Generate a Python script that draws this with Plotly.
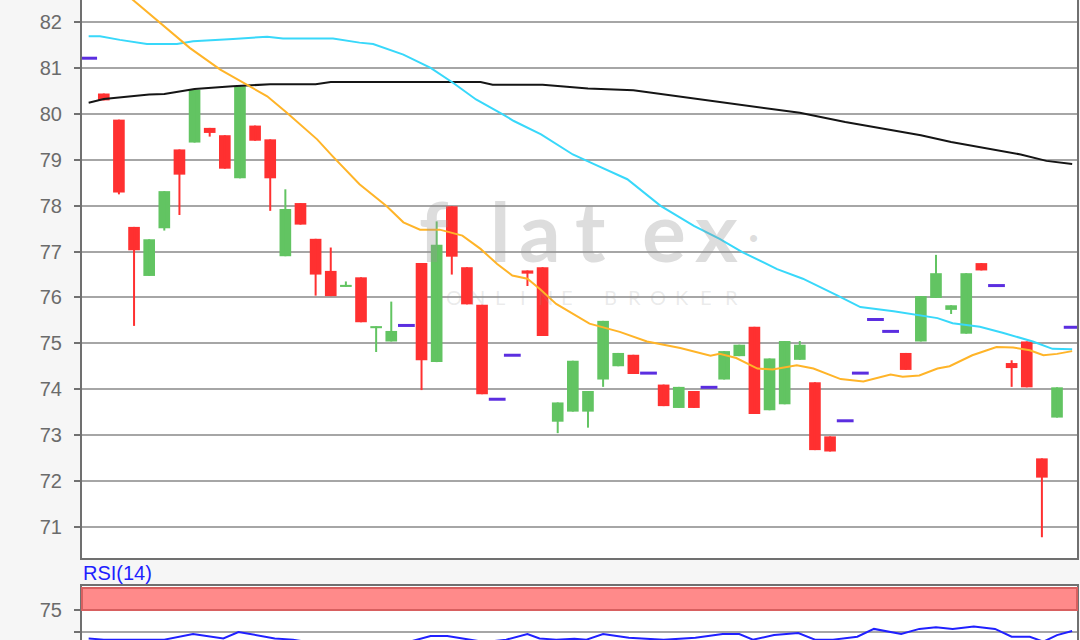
import plotly.graph_objects as go

# ---------------- data ----------------
candle_slot = [0, 1, 2, 3, 4, 5, 6, 7, 8, 9, 10, 11, 12, 13, 14, 15, 16, 17, 18, 19,
               21, 22, 23, 24, 25, 28, 29, 30, 31, 32, 33, 34, 35, 37, 38, 39,
               41, 42, 43, 44, 45, 46, 47, 48, 53, 54, 55, 56, 57, 58, 60, 61, 62, 63]
candle_open = [80.45, 79.88, 77.54, 76.47, 77.51, 79.23, 79.38, 79.70, 79.54, 78.60,
               79.75, 79.45, 76.90, 78.06, 77.28, 76.58, 76.23, 76.44, 75.33, 75.04,
               76.75, 74.59, 77.99, 76.66, 75.84, 76.59, 76.66, 73.29, 73.51, 73.51,
               74.21, 74.50, 74.75, 74.10, 73.59, 73.96, 74.21, 74.72, 75.36, 73.54,
               73.67, 74.64, 74.15, 72.97, 74.79, 75.04, 75.99, 75.73, 75.21, 76.75,
               74.57, 75.04, 72.49, 73.38]
candle_close = [80.30, 78.29, 77.03, 77.27, 78.32, 78.68, 80.53, 79.59, 78.81, 80.61,
                79.42, 78.60, 77.93, 77.59, 76.50, 76.03, 76.27, 75.46, 75.37, 75.27,
                74.63, 77.15, 76.89, 75.85, 73.89, 76.52, 75.16, 73.71, 74.62, 73.96,
                75.49, 74.79, 74.33, 73.63, 74.05, 73.59, 74.83, 74.97, 73.46, 74.67,
                75.05, 74.97, 72.67, 72.64, 74.42, 76.03, 76.53, 75.83, 76.53, 76.59,
                74.46, 74.04, 72.07, 74.04]
candle_high = [80.45, 79.88, 77.54, 77.27, 78.32, 79.23, 80.53, 79.70, 79.54, 80.61,
               79.75, 79.45, 78.36, 78.06, 77.28, 77.09, 76.35, 76.44, 75.37, 75.91,
               76.75, 77.66, 77.99, 76.66, 75.84, 76.59, 76.66, 73.71, 74.62, 73.96,
               75.49, 74.79, 74.75, 74.10, 74.05, 73.96, 74.83, 74.97, 75.36, 74.67,
               75.05, 75.05, 74.15, 72.97, 74.79, 76.03, 76.93, 75.83, 76.53, 76.75,
               74.63, 75.04, 72.49, 74.04]
candle_low = [80.30, 78.25, 75.38, 76.47, 77.46, 77.80, 79.38, 79.51, 78.81, 78.60,
              79.42, 77.89, 76.90, 77.59, 76.04, 76.03, 76.23, 75.46, 74.81, 75.04,
              73.98, 74.59, 76.50, 75.85, 73.89, 76.25, 75.16, 73.04, 73.51, 73.16,
              74.05, 74.50, 74.33, 73.63, 73.59, 73.59, 74.21, 74.72, 73.46, 73.54,
              73.67, 74.64, 72.67, 72.64, 74.42, 75.04, 75.99, 75.64, 75.21, 76.59,
              74.05, 74.04, 70.77, 73.38]

dash_slot = [-1, 20, 26, 27, 36, 40, 49, 50, 51, 52, 59, 64]
dash_value = [81.22, 75.39, 73.78, 74.74, 74.35, 74.04, 73.31, 74.35, 75.52, 75.26, 76.26, 75.35]

ma_long_slot = [-1, 0, 3, 4, 6, 8.5, 11, 14, 15, 20, 24.9, 25.7, 29, 30.2, 32, 35, 36.8,
                40.7, 46, 49, 51.7, 54, 56, 58.4, 60.6, 62.3, 64]
ma_long_value = [80.25, 80.33, 80.43, 80.44, 80.55, 80.61, 80.65, 80.65, 80.70, 80.70,
                 80.70, 80.64, 80.64, 80.61, 80.56, 80.52, 80.44, 80.26, 80.03, 79.83,
                 79.67, 79.54, 79.39, 79.25, 79.12, 78.98, 78.91]

ma_mid_slot = [-1, -0.25, 1.07, 2.85, 4.84, 5.9, 8.54, 10.8, 11.84, 15.15, 16.9, 17.8,
               19.8, 21.6, 23.1, 24.6, 26.4, 27.1, 28.9, 31.0, 32.4, 34.6, 36.8, 39.0,
               40.7, 42.2, 44.5, 46.2, 48.5, 50.0, 52.2, 55.1, 56.1, 57.9, 59.4, 61.4,
               62.7, 64.0]
ma_mid_value = [81.70, 81.70, 81.62, 81.53, 81.53, 81.59, 81.64, 81.69, 81.65, 81.65,
                81.56, 81.53, 81.30, 81.01, 80.68, 80.32, 79.99, 79.85, 79.56, 79.12,
                78.91, 78.58, 78.00, 77.56, 77.28, 76.99, 76.62, 76.41, 76.04, 75.79,
                75.70, 75.55, 75.44, 75.36, 75.23, 75.04, 74.88, 74.87]

ma_short_slot = [1.0, 1.93, 3.7, 5.7, 7.7, 9.5, 10.8, 12.1, 14.1, 15.1, 16.9, 18.7, 19.8,
                 20.9, 22.2, 23.7, 24.9, 26.0, 27.0, 28.0, 28.8, 29.9, 31.0, 32.1, 34.1,
                 35.9, 38.1, 40.1, 40.7, 41.8, 43.2, 44.2, 45.8, 46.9, 48.7, 50.2, 52.0,
                 52.8, 53.9, 55.1, 55.9, 57.4, 59.0, 60.1, 61.2, 62.1, 63.0, 64.0]
ma_short_value = [82.75, 82.49, 81.99, 81.44, 80.97, 80.64, 80.39, 80.03, 79.45, 79.09,
                  78.47, 77.99, 77.64, 77.48, 77.48, 77.35, 77.06, 76.73, 76.48, 76.41,
                  76.19, 75.86, 75.65, 75.43, 75.25, 75.04, 74.90, 74.73, 74.77, 74.68,
                  74.45, 74.43, 74.52, 74.45, 74.22, 74.17, 74.32, 74.27, 74.30, 74.45,
                  74.50, 74.74, 74.92, 74.91, 74.85, 74.74, 74.77, 74.83]

rsi_slot = [-1, 0, 4, 5.9, 7.9, 8.9, 11.3, 12.5, 14, 17, 20, 21.6, 22.7, 24.3, 25.2, 26.6,
            28.0, 28.8, 29.9, 31.1, 31.9, 33.0, 34.7, 37.0, 39.1, 40.9, 42.0, 42.9, 44.3,
            45.9, 47.0, 48.2, 49.8, 50.9, 52.7, 53.9, 55.0, 56.1, 57.5, 58.9, 60.0, 61.2,
            62.1, 63.0, 64.0]
rsi_value = [42.7, 41.3, 41.3, 47.7, 42.7, 50.0, 42.7, 41.3, 37.0, 35.0, 38.0, 45.4, 45.4,
             41.3, 38.5, 41.3, 47.7, 42.7, 41.3, 42.3, 41.3, 47.7, 43.5, 41.1, 43.5, 47.7,
             47.7, 41.3, 46.5, 48.8, 41.3, 41.3, 44.6, 53.5, 47.7, 53.5, 55.4, 53.5, 56.2,
             53.5, 44.6, 44.6, 39.0, 46.5, 51.2]

price_ticks = [71, 72, 73, 74, 75, 76, 77, 78, 79, 80, 81, 82]
rsi_tick_values = [50, 75]
rsi_tick_labels = ["", "75"]
rsi_band = [75, 100]

# ---------------- styling / geometry ----------------
FIG_W, FIG_H = 1080, 640
M_L, M_R = 82, 3
PLOT_W = FIG_W - M_L - M_R

RED = "#ff3030"
GREEN = "#62c462"
PURPLE = "#5b2ee0"
GRID = "#a6a6a6"
AXIS = "#707070"
TICKFONT = dict(family="Liberation Sans, Arial, sans-serif", size=20, color="#6b6b6b")
WM_BIG = "rgba(150,150,150,0.32)"
WM_SMALL = "rgba(150,150,150,0.20)"


def paper_x(px):
    return (px - M_L) / PLOT_W


def paper_y(py):
    return (FIG_H - py) / FIG_H


fig = go.Figure()

# wicks
for col, up in ((RED, False), (GREEN, True)):
    wx, wy = [], []
    for s, o, h, l, c in zip(candle_slot, candle_open, candle_high, candle_low, candle_close):
        if (c >= o) == up:
            wx += [s, s, None]
            wy += [l, h, None]
    fig.add_trace(go.Scatter(x=wx, y=wy, mode="lines", line=dict(color=col, width=2),
                             hoverinfo="skip", xaxis="x", yaxis="y"))

# bodies
body_base = [min(o, c) for o, c in zip(candle_open, candle_close)]
body_h = [max(abs(c - o), 0.045) for o, c in zip(candle_open, candle_close)]
body_col = [GREEN if c >= o else RED for o, c in zip(candle_open, candle_close)]
fig.add_trace(go.Bar(x=candle_slot, y=body_h, base=body_base, width=0.77,
                     marker=dict(color=body_col, line=dict(width=0)),
                     xaxis="x", yaxis="y", hoverinfo="skip"))

# moving averages
fig.add_trace(go.Scatter(x=ma_long_slot, y=ma_long_value, mode="lines",
                         line=dict(color="#151515", width=2), xaxis="x", yaxis="y"))
fig.add_trace(go.Scatter(x=ma_mid_slot, y=ma_mid_value, mode="lines",
                         line=dict(color="#38d8fa", width=2), xaxis="x", yaxis="y"))
fig.add_trace(go.Scatter(x=ma_short_slot, y=ma_short_value, mode="lines",
                         line=dict(color="#ffb428", width=2), xaxis="x", yaxis="y"))

# single-price dashes
fig.add_trace(go.Scatter(x=dash_slot, y=dash_value, mode="markers",
                         marker=dict(symbol="line-ew", size=12,
                                     line=dict(color=PURPLE, width=3)),
                         xaxis="x", yaxis="y"))

# RSI
fig.add_trace(go.Scatter(x=rsi_slot, y=rsi_value, mode="lines",
                         line=dict(color="#2020ff", width=2), xaxis="x2", yaxis="y2"))

x_range = [-1.44, 64.32]
main_dom = [paper_y(558.3), 1.0]
rsi_dom = [0.0, paper_y(585.5)]

annotations = []
# watermark
for ch, px in (("f", 434), ("l", 500), ("a", 540), ("t", 590), ("e", 664), ("x", 716)):
    annotations.append(dict(xref="paper", yref="paper", x=paper_x(px), y=paper_y(230),
                            text="<b>" + ch + "</b>", showarrow=False,
                            xanchor="center", yanchor="middle",
                            font=dict(family="Lato, Liberation Sans, sans-serif", size=82,
                                      color=WM_BIG)))
annotations.append(dict(xref="paper", yref="paper", x=paper_x(753), y=paper_y(238),
                        text="•", showarrow=False, xanchor="center", yanchor="middle",
                        font=dict(family="Liberation Sans, sans-serif", size=26,
                                  color=WM_BIG)))
for ch, px in zip("ONLINEBROKER", (454, 477, 500, 523, 545, 567, 610, 634, 658, 682, 706, 731)):
    annotations.append(dict(xref="paper", yref="paper", x=paper_x(px), y=paper_y(297),
                            text=ch, showarrow=False, xanchor="center", yanchor="middle",
                            font=dict(family="Lato, Liberation Sans, sans-serif", size=20,
                                      color=WM_SMALL)))
annotations.append(dict(xref="paper", yref="paper", x=0, y=rsi_dom[1], text="RSI(14)",
                        showarrow=False, xanchor="left", yanchor="bottom", xshift=-1,
                        font=dict(family="Liberation Sans, Arial, sans-serif", size=20,
                                  color="#1e1eff")))

common_y = dict(showgrid=True, gridcolor=GRID, gridwidth=2, zeroline=False,
                showline=True, mirror=True, linecolor=AXIS, linewidth=2,
                ticks="outside", ticklen=6, tickwidth=2, tickcolor=AXIS,
                tickfont=TICKFONT, ticklabelstandoff=8, automargin=False)

fig.update_layout(
    width=FIG_W, height=FIG_H,
    margin=dict(l=M_L, r=M_R, t=0, b=0, pad=0, autoexpand=False),
    paper_bgcolor="#f6f6f6", plot_bgcolor="#ffffff",
    showlegend=False, hovermode=False,
    xaxis=dict(domain=[0, 1], anchor="y", range=x_range, showgrid=False, zeroline=False,
               showticklabels=False, ticks="", showline=True, linecolor=AXIS, linewidth=2,
               automargin=False),
    yaxis=dict(domain=main_dom, anchor="x", range=[70.31, 82.49], tickvals=price_ticks,
               **common_y),
    xaxis2=dict(domain=[0, 1], anchor="y2", range=x_range, showgrid=False, zeroline=False,
                showticklabels=False, ticks="", showline=True, mirror=True,
                linecolor=AXIS, linewidth=2, automargin=False),
    yaxis2=dict(domain=rsi_dom, anchor="x2", range=[40.9, 102.8],
                tickvals=rsi_tick_values, ticktext=rsi_tick_labels, **common_y),
    shapes=[dict(type="rect", xref="x2 domain", yref="y2", x0=0, x1=1,
                 y0=rsi_band[0], y1=rsi_band[1], fillcolor="#ff8a8a",
                 line=dict(color="#d86060", width=2), layer="above")],
    annotations=annotations,
)

fig.write_html("out.html", config={"displayModeBar": False},
               post_script="document.body.style.margin='0';document.body.style.overflow='hidden';")
